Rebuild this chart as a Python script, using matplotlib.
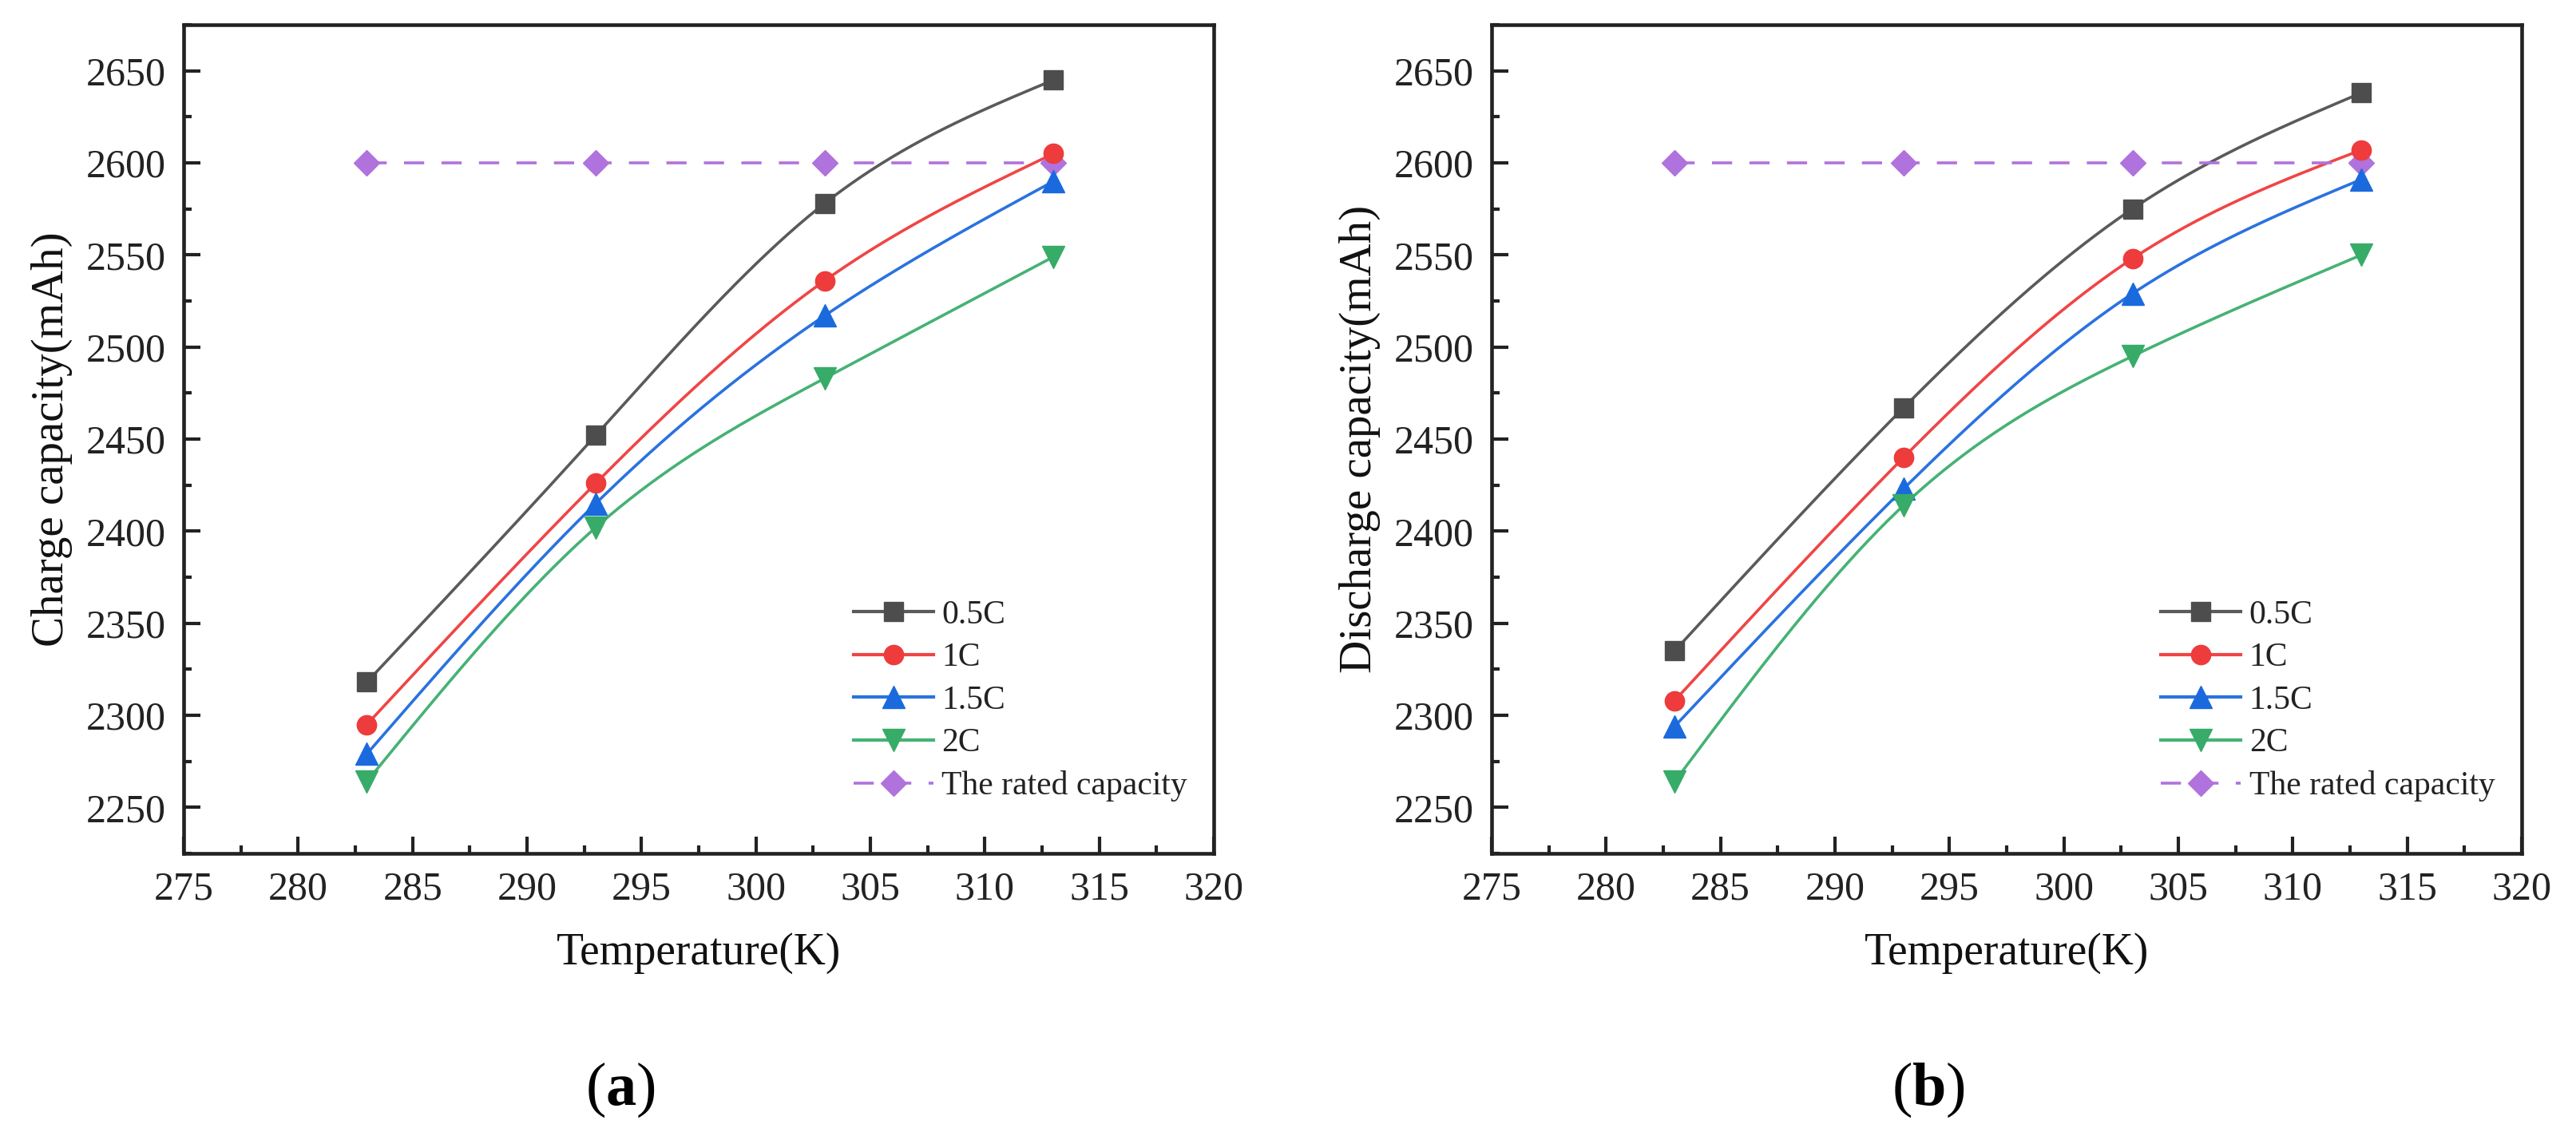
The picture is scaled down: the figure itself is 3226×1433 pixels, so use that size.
import matplotlib
matplotlib.use("Agg")
import matplotlib.pyplot as plt
import numpy as np
from matplotlib.ticker import MultipleLocator


# ==================================================
# DATA
# ==================================================
temps = [283, 293, 303, 313]
rates = ["0.5C", "1C", "1.5C", "2C"]

charge_05c = [2318, 2452, 2578, 2645]
charge_1c = [2295, 2426, 2536, 2605]
charge_15c = [2279, 2415, 2517, 2590]
charge_2c = [2264, 2402, 2483, 2549]

discharge_05c = [2335, 2467, 2575, 2638]
discharge_1c = [2308, 2440, 2548, 2607]
discharge_15c = [2294, 2423, 2529, 2591]
discharge_2c = [2264, 2414, 2495, 2550]

rated_capacity = [2600, 2600, 2600, 2600]

x_ticks = [275, 280, 285, 290, 295, 300, 305, 310, 315, 320]
y_ticks = [2250, 2300, 2350, 2400, 2450, 2500, 2550, 2600, 2650]


# ==================================================
# STYLE
# ==================================================
plt.rcParams["font.family"] = ["Liberation Serif", "DejaVu Serif"]
plt.rcParams["mathtext.fontset"] = "custom"
plt.rcParams["mathtext.rm"] = "Liberation Serif"
plt.rcParams["mathtext.bf"] = "Liberation Serif:bold"

colors = ["#4d4d4d", "#ee3b3b", "#1a6ade", "#37ab68"]
line_colors = ["#5a5a5a", "#f04545", "#2a72e0", "#45b274"]
markers = ["s", "o", "^", "v"]
msizes = [17, 17.5, 20, 20]
purple = "#b072dc"
ink = "#222222"


def spline(x, y, n=200):
    # natural cubic spline through the points (Origin-like smooth connect)
    x = np.asarray(x, float)
    y = np.asarray(y, float)
    k = len(x)
    h = np.diff(x)
    A = np.zeros((k, k))
    r = np.zeros(k)
    A[0, 0] = A[-1, -1] = 1
    for i in range(1, k - 1):
        A[i, i - 1] = h[i - 1]
        A[i, i] = 2 * (h[i - 1] + h[i])
        A[i, i + 1] = h[i]
        r[i] = 3 * ((y[i + 1] - y[i]) / h[i] - (y[i] - y[i - 1]) / h[i - 1])
    c = np.linalg.solve(A, r)
    xs = np.linspace(x[0], x[-1], n)
    idx = np.clip(np.searchsorted(x, xs) - 1, 0, k - 2)
    dx = xs - x[idx]
    hi = h[idx]
    b = (y[idx + 1] - y[idx]) / hi - hi * (2 * c[idx] + c[idx + 1]) / 3
    d = (c[idx + 1] - c[idx]) / (3 * hi)
    ys = y[idx] + b * dx + c[idx] * dx ** 2 + d * dx ** 3
    return xs, ys


def draw_panel(ax, series, ylabel):
    for vals, lab, col, lcol, m, ms in zip(series, rates, colors, line_colors,
                                           markers, msizes):
        xs, ys = spline(temps, vals)
        ax.plot(xs, ys, color=lcol, lw=2.6, zorder=2)
        ax.plot(temps, vals, ls="none", marker=m, color=col,
                markersize=ms, zorder=3)
        # legend proxy
        ax.plot([], [], color=lcol, lw=3, marker=m, markerfacecolor=col,
                markeredgecolor=col, markersize=ms, label=lab)

    ax.plot(temps, rated_capacity, color=purple, lw=2.6, dashes=(7, 6),
            marker="D", markersize=16.5, zorder=2, label="The rated capacity")

    ax.set_xlim(275, 320)
    ax.set_ylim(2225, 2675)
    ax.set_xticks(x_ticks)
    ax.set_yticks(y_ticks)
    ax.xaxis.set_minor_locator(MultipleLocator(2.5))
    ax.yaxis.set_minor_locator(MultipleLocator(25))
    ax.tick_params(which="both", direction="in", top=False, right=False,
                   width=3, labelsize=36, colors=ink)
    ax.tick_params(which="major", length=15, pad=16)
    ax.tick_params(which="minor", length=7.5)
    for s in ax.spines.values():
        s.set_linewidth(3.3)
        s.set_color(ink)

    ax.set_xlabel("Temperature(K)", fontsize=40, labelpad=22, color="#111111")
    ax.set_ylabel(ylabel, fontsize=41, labelpad=12, color="#111111")

    ax.legend(loc="upper left", bbox_to_anchor=(0.650, 0.306), frameon=False,
              fontsize=30, handlelength=2.4, handletextpad=0.25,
              labelspacing=0.36, borderaxespad=0, borderpad=0,
              labelcolor="#222222")


# ==================================================
# FIGURE
# ==================================================
fig = plt.figure(figsize=(32.26, 14.33), dpi=100)

ax1 = fig.add_axes([0.0713, 0.254, 0.3999, 0.7244])
ax2 = fig.add_axes([0.5790, 0.254, 0.3999, 0.7244])

draw_panel(ax1, [charge_05c, charge_1c, charge_15c, charge_2c],
           "Charge capacity(mAh)")
draw_panel(ax2, [discharge_05c, discharge_1c, discharge_15c, discharge_2c],
           "Discharge capacity(mAh)")

fig.text(0.2409, 0.0475, r"($\mathbf{a}$)", fontsize=55, ha="center", va="center")
fig.text(0.7485, 0.0475, r"($\mathbf{b}$)", fontsize=55, ha="center", va="center")

fig.savefig("out.png", dpi=100)
